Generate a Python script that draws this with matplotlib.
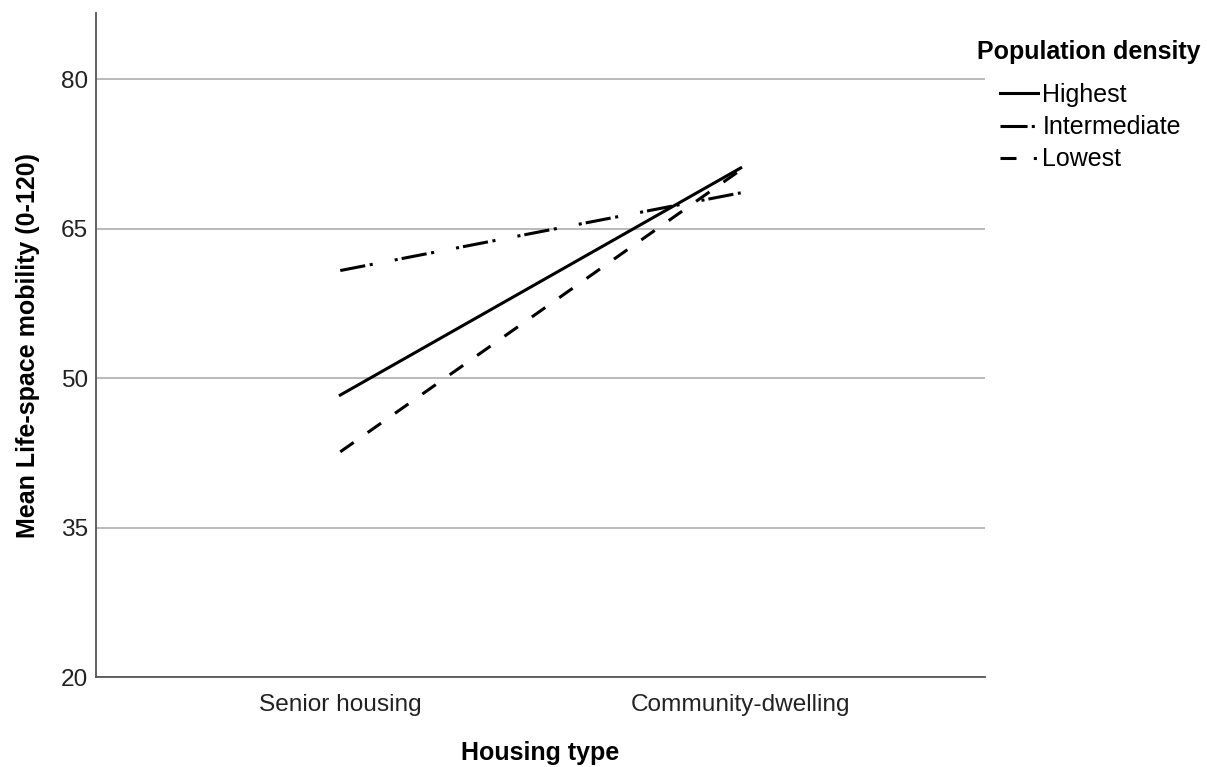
import matplotlib
matplotlib.use("Agg")
import matplotlib.pyplot as plt
from matplotlib.lines import Line2D

# Data
categories = ["Senior housing", "Community-dwelling"]
series_names = ["Highest", "Intermediate", "Lowest"]
highest = [48.3, 71.1]
intermediate = [60.8, 68.6]
lowest = [42.6, 70.9]
yticks = [20, 35, 50, 65, 80]

plt.rcParams['font.family'] = ['Liberation Sans', 'DejaVu Sans']
plt.rcParams['lines.scale_dashes'] = False

W, H = 1207, 767
fig = plt.figure(figsize=(W / 100, H / 100), dpi=100)
ax = fig.add_axes([96 / W, 1 - 677 / H, (985 - 96) / W, (677 - 13) / H])

x = list(range(len(categories)))
lw = 2.2
styles = {
    "Highest": dict(linestyle='-'),
    "Intermediate": dict(linestyle=(0, (18.3, 3.3, 2.2, 16.1, 2.2, 2.9))),
    "Lowest": dict(linestyle=(0, (11.8, 12.3))),
}
for name, vals in zip(series_names, [highest, intermediate, lowest]):
    ax.plot(x, vals, color='black', linewidth=lw, zorder=3, **styles[name])

ax.set_xlim(-0.61, 1.61)
ax.set_ylim(20, 86.65)
ax.set_yticks(yticks)
ax.set_xticks(x)
ax.set_xticklabels(categories)
ax.tick_params(axis='both', length=0, labelsize=17.6, colors='#222222')
ax.tick_params(axis='y', pad=5.5)
ax.tick_params(axis='x', pad=12)
ax.yaxis.grid(True, color='#b4b4b4', linewidth=1.3)
ax.set_axisbelow(True)
for s in ['top', 'right']:
    ax.spines[s].set_visible(False)
for s in ['left', 'bottom']:
    ax.spines[s].set_color('#555555')
    ax.spines[s].set_linewidth(1.3)

ax.set_xlabel("Housing type", fontsize=18, fontweight='bold', labelpad=18)
ax.set_ylabel("Mean Life-space mobility (0-120)", fontsize=18, fontweight='bold', labelpad=15)

# Legend
fig.text(977 / W, 1 - 52 / H, "Population density", fontsize=18, fontweight='bold',
         ha='left', va='center')
handles = [
    Line2D([], [], color='black', linewidth=lw, linestyle='-'),
    Line2D([], [], color='black', linewidth=lw, linestyle=(0, (19.5, 3.0, 2.2, 20))),
    Line2D([], [], color='black', linewidth=lw, linestyle=(0, (11.5, 12.5, 2.2, 20))),
]
fig.legend(handles, series_names, loc='upper left',
           bbox_to_anchor=(1000 / W, 1 - 83 / H), frameon=False, fontsize=18,
           handlelength=1.5, handletextpad=0.2, labelspacing=0.33, borderpad=0,
           borderaxespad=0)

fig.savefig("out.png", dpi=100)
